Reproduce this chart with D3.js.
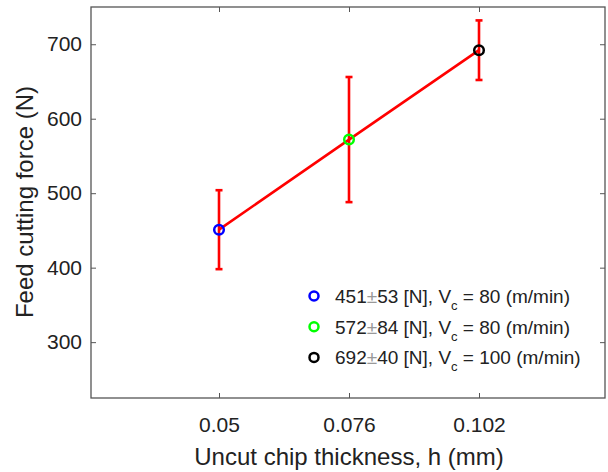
<!DOCTYPE html>
<html>
<head>
<meta charset="utf-8">
<script src="https://cdn.jsdelivr.net/npm/d3@7"></script>
<style>
body { margin: 0; background: #fff; }
svg { font-family: "Liberation Sans", Arial, sans-serif; }
</style>
</head>
<body>
<svg id="chart" width="608" height="472"></svg>
<script>
// data
var thickness = [0.05, 0.076, 0.102];
var force = [451, 572, 692];
var spread = [53, 84, 40];
var speed = [80, 80, 100];
var markerColors = ["#0000ff", "#00ff00", "#000000"];
var yTicks = [300, 400, 500, 600, 700];

var svg = d3.select("#chart");
var mLeft = 91, mRight = 605, mTop = 7, mBottom = 398;

var x = d3.scaleLinear().domain([0.0244, 0.1272]).range([mLeft, mRight]);
var y = d3.scaleLinear().domain([225, 750]).range([mBottom, mTop]);

// box
svg.append("rect")
    .attr("x", mLeft).attr("y", mTop)
    .attr("width", mRight - mLeft).attr("height", mBottom - mTop)
    .attr("fill", "none").attr("stroke", "#555").attr("stroke-width", 1.3);

// y axis ticks
var yAxis = svg.append("g").attr("transform", "translate(" + mLeft + ",0)")
    .call(d3.axisLeft(y).tickValues(yTicks).tickSize(-5).tickPadding(9).tickFormat(d3.format("d")));
yAxis.select(".domain").remove();
yAxis.selectAll("line").attr("stroke", "#555");
yAxis.selectAll("text").attr("font-size", 21).attr("fill", "#222").attr("font-family", null);
// right side ticks
var yAxisR = svg.append("g").attr("transform", "translate(" + mRight + ",0)")
    .call(d3.axisRight(y).tickValues(yTicks).tickSize(-5).tickFormat(""));
yAxisR.select(".domain").remove();
yAxisR.selectAll("line").attr("stroke", "#555");

// x axis ticks
var xAxis = svg.append("g").attr("transform", "translate(0," + mBottom + ")")
    .call(d3.axisBottom(x).tickValues(thickness).tickSize(-5).tickPadding(19).tickFormat(function(d) { return String(d); }));
xAxis.select(".domain").remove();
xAxis.selectAll("line").attr("stroke", "#555");
xAxis.selectAll("text").attr("font-size", 21).attr("fill", "#222").attr("font-family", null);
var xAxisT = svg.append("g").attr("transform", "translate(0," + mTop + ")")
    .call(d3.axisTop(x).tickValues(thickness).tickSize(-5).tickFormat(""));
xAxisT.select(".domain").remove();
xAxisT.selectAll("line").attr("stroke", "#555");

// axis titles
svg.append("text")
    .attr("x", 349).attr("y", 465)
    .attr("text-anchor", "middle").attr("font-size", 24).attr("fill", "#222")
    .text("Uncut chip thickness, h (mm)");
svg.append("text")
    .attr("transform", "translate(33,202) rotate(-90)")
    .attr("text-anchor", "middle").attr("font-size", 24).attr("fill", "#222")
    .text("Feed cutting force (N)");

// line
var line = d3.line().x(function(d, i) { return x(thickness[i]); }).y(function(d) { return y(d); });
svg.append("path").datum(force)
    .attr("d", line).attr("fill", "none").attr("stroke", "#ff0000").attr("stroke-width", 2.6);

// error bars
var bars = svg.append("g").attr("stroke", "#ff0000").attr("stroke-width", 2.6);
force.forEach(function(f, i) {
    var cx = x(thickness[i]);
    bars.append("line").attr("x1", cx).attr("x2", cx).attr("y1", y(f - spread[i])).attr("y2", y(f + spread[i]));
    [f - spread[i], f + spread[i]].forEach(function(v) {
        bars.append("line").attr("x1", cx - 3.5).attr("x2", cx + 3.5).attr("y1", y(v)).attr("y2", y(v));
    });
});

// markers
force.forEach(function(f, i) {
    svg.append("circle")
        .attr("cx", x(thickness[i])).attr("cy", y(f)).attr("r", 4.8)
        .attr("fill", "none").attr("stroke", markerColors[i]).attr("stroke-width", 2.5);
});

// legend
var leg = svg.append("g");
force.forEach(function(f, i) {
    var ly = 296 + i * 30.7;
    leg.append("circle").attr("cx", 314).attr("cy", ly).attr("r", 4.5)
        .attr("fill", "none").attr("stroke", markerColors[i]).attr("stroke-width", 2.5);
    var t = leg.append("text").attr("x", 335).attr("y", ly + 7).attr("font-size", 19).attr("fill", "#222");
    t.append("tspan").text(f);
    t.append("tspan").attr("fill", "#999").text("\u00b1");
    t.append("tspan").text(spread[i] + " [N], V");
    t.append("tspan").attr("font-size", 13).attr("dy", 7).text("c");
    t.append("tspan").attr("dy", -7).text(" = " + speed[i] + " (m/min)");
});
</script>
</body>
</html>
